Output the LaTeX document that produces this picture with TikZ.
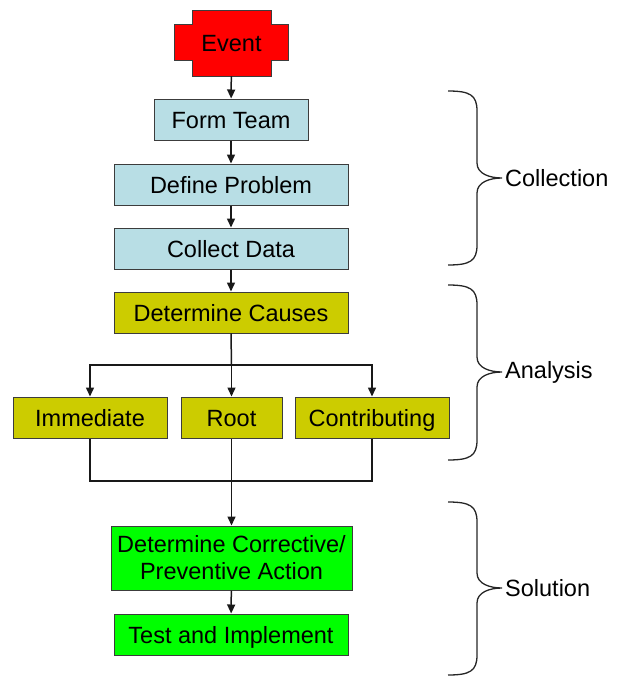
\documentclass[tikz,border=0pt]{standalone}
\usepackage{fontspec}
\setmainfont{Liberation Sans}
\usetikzlibrary{arrows.meta}

\definecolor{evred}{RGB}{255,0,0}
\definecolor{collblue}{RGB}{184,222,229}
\definecolor{anolive}{RGB}{204,204,0}
\definecolor{solgreen}{RGB}{0,255,0}
\definecolor{edgegray}{RGB}{60,60,60}

\tikzset{
  every node/.style={font=\fontsize{23.5}{28}\selectfont},
  stagebox/.style={draw=edgegray, line width=1pt, inner sep=0pt,
    text height=17pt, text depth=0pt},
  collbox/.style={stagebox, fill=collblue},
  anbox/.style={stagebox, fill=anolive},
  solbox/.style={draw=edgegray, line width=1pt, inner sep=0pt, fill=solgreen},
  link/.style={line width=1.5pt, draw=black!90},
  flow/.style={link, -{Triangle[width=8pt,length=9pt]}},
  bracket/.style={line width=1.3pt, draw=black!85},
  phase/.style={anchor=west, inner sep=0pt}
}

% curly brace: #1 top y, #2 tip y, #3 bottom y, #4 label, #5 node name
\newcommand{\phasebrace}[5]{%
  \draw[bracket] (448,#1) .. controls (470,#1) and (477,{#1+4}) .. (477,{#1+20})
    -- (477,{#2-15}) .. controls (477,{#2-4}) and (490,#2) .. (502,#2)
    .. controls (490,#2) and (477,{#2+4}) .. (477,{#2+15})
    -- (477,{#3-20}) .. controls (477,{#3-4}) and (470,#3) .. (448,#3);
  \node[phase] (#5) at (505,#2) {#4};
}

\begin{document}
\begin{tikzpicture}[x=1pt,y=-1pt]
\useasboundingbox (0,0) rectangle (624,677);

% starting event plaque
\draw[draw=edgegray, line width=1pt, fill=evred]
  (192,11) -- (271,11) -- (271,25) -- (288,25) -- (288,61) -- (271,61)
  -- (271,76) -- (192,76) -- (192,61) -- (174,61) -- (174,25) -- (192,25) -- cycle;
\node[inner sep=0pt, minimum width=79pt, minimum height=65pt,
  text height=17pt, text depth=0pt] (event) at (231.5,43.5) {Event};

% collection stage
\node[collbox, minimum width=154pt, minimum height=41pt] (team) at (231,119.5) {Form Team};
\node[collbox, minimum width=234pt, minimum height=41pt] (define) at (231,184.5) {Define Problem};
\node[collbox, minimum width=234pt, minimum height=41pt] (collect) at (231,248.5) {Collect Data};

% analysis stage
\node[anbox, minimum width=234pt, minimum height=41pt] (causes) at (231,312.5) {Determine Causes};
\node[anbox, minimum width=154pt, minimum height=41pt] (immediate) at (90,417.5) {Immediate};
\node[anbox, minimum width=101pt, minimum height=41pt] (root) at (231.5,417.5) {Root};
\node[anbox, minimum width=154pt, minimum height=41pt] (contrib) at (372,417.5) {Contributing};

% solution stage
\node[solbox, minimum width=241pt, minimum height=64pt, align=center] (corrective) at (231.5,558)
  {Determine Corrective/\\[-1pt]Preventive Action};
\node[solbox, minimum width=234pt, minimum height=41pt, text height=17pt, text depth=0pt] (test) at (231,634.5) {Test and Implement};

% main flow
\draw[flow] (event) -- (team);
\draw[flow] (team) -- (define);
\draw[flow] (define) -- (collect);
\draw[flow] (collect) -- (causes);

% branching into the three cause types
\coordinate (split) at (231.5,365);
\draw[link] (causes.south) -- (split);
\draw[flow] (split) -| (immediate.north);
\draw[flow] (split) -| (contrib.north);
\draw[flow] (split) -- (root.north);

% merging back towards the actions
\coordinate (join) at (231.5,481);
\draw[link] (immediate.south) |- (join);
\draw[link] (contrib.south) |- (join);
\draw[flow] (root.south) -- (corrective.north);
\draw[flow] (corrective) -- (test);

% phase braces
\phasebrace{91}{178}{265}{Collection}{collection}
\phasebrace{285}{372}{460}{Analysis}{analysis}
\phasebrace{502}{588}{675}{Solution}{solution}
\end{tikzpicture}
\end{document}
